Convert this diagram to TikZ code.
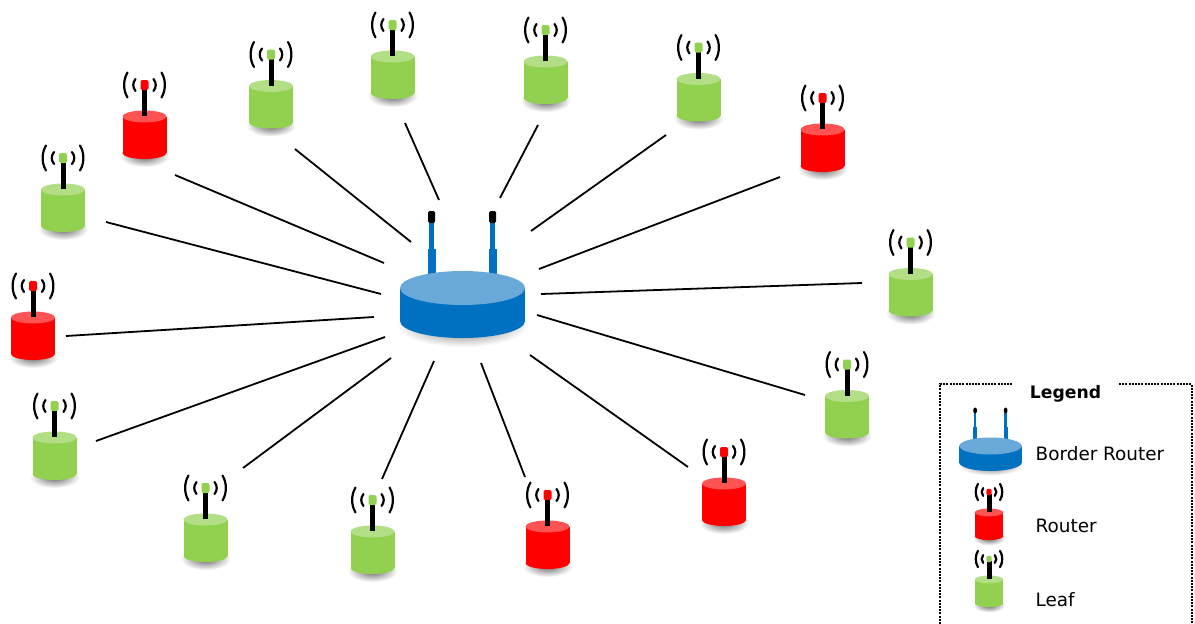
\documentclass[tikz,border=0pt]{standalone}
\usepackage{fontspec}
\setmainfont{DejaVu Sans}
\usetikzlibrary{calc}
\definecolor{hubblue}{HTML}{0070C0}
\definecolor{hubtop}{HTML}{69A9D9}
\definecolor{routerred}{HTML}{FF0000}
\definecolor{routertop}{HTML}{FF5252}
\definecolor{leafgreen}{HTML}{92D050}
\definecolor{leaftop}{HTML}{B2DE85}
\tikzset{
  link/.style={draw=black,line width=1.8pt},
  radio/.style={draw=black,line width=2.2pt,line cap=round},
  legendline/.style={draw=black,line width=2.4pt,dash pattern=on 2pt off 1.2pt},
  legendtext/.style={anchor=west,inner sep=0pt,font=\fontsize{18.4}{22}\selectfont},
  pics/device/.style 2 args={code={
    \shade[inner color=black!60,outer color=white] (0,71) ellipse [x radius=25pt,y radius=11pt];
    \fill[#1] (-22,31.5) rectangle (22,68);
    \fill[#1] (0,68) ellipse [x radius=22pt,y radius=6pt];
    \fill[#2] (0,31.5) ellipse [x radius=22pt,y radius=6pt];
    \draw[black,line width=5pt] (0,3) -- (0,31);
    \fill[#1,rounded corners=2pt] (-4,-5) rectangle (4,5);
    \foreach \side in {-1,1} {
      \path[radio] (\side*9,-6) .. controls (\side*12,-2) and (\side*12,2) .. (\side*9,6);
      \path[radio] (\side*17,-12.5) .. controls (\side*21.5,-5) and (\side*21.5,5) .. (\side*17,12.5);
    }
  }},
  pics/hub/.style={code={
    \shade[inner color=black!60,outer color=white] (0,37) ellipse [x radius=66pt,y radius=22pt];
    \foreach \side in {-31,30} {
      \fill[hubblue] (\side-4,-39) rectangle (\side+4,-5);
      \fill[hubblue] (\side-2.5,-66) rectangle (\side+2.5,-39);
      \fill[black,rounded corners=1.5pt] (\side-3.5,-77) rectangle (\side+3.5,-65);
    }
    \fill[hubblue] (-62.5,0) rectangle (62.5,33);
    \fill[hubblue] (0,33) ellipse [x radius=62.5pt,y radius=17pt];
    \fill[hubtop] (0,0) ellipse [x radius=62.5pt,y radius=17pt];
  }}
}
\begin{document}
\begin{tikzpicture}[x=1pt,y=-1pt]
  \useasboundingbox (0,0) rectangle (1195,624);
  \fill[white] (0,0) rectangle (1195,624);

  \pic (hubA) at (462.5,288) {hub};

  \pic (leafA) at (63,158) {device={leafgreen}{leaftop}};
  \pic (routerA) at (144.5,85) {device={routerred}{routertop}};
  \pic (leafB) at (271,54.5) {device={leafgreen}{leaftop}};
  \pic (leafC) at (392.5,25) {device={leafgreen}{leaftop}};
  \pic (leafD) at (545.5,30) {device={leafgreen}{leaftop}};
  \pic (leafE) at (698.5,47.5) {device={leafgreen}{leaftop}};
  \pic (routerB) at (822.5,98) {device={routerred}{routertop}};
  \pic (leafF) at (910.5,242.5) {device={leafgreen}{leaftop}};
  \pic (leafG) at (847,364.5) {device={leafgreen}{leaftop}};
  \pic (routerC) at (724,452) {device={routerred}{routertop}};
  \pic (routerD) at (547.5,495) {device={routerred}{routertop}};
  \pic (leafH) at (372.5,500) {device={leafgreen}{leaftop}};
  \pic (leafI) at (205.5,488) {device={leafgreen}{leaftop}};
  \pic (leafJ) at (54.5,406) {device={leafgreen}{leaftop}};
  \pic (routerE) at (33,286) {device={routerred}{routertop}};

  \foreach \lnk/\xa/\ya/\xb/\yb in {leafA/106/222/381/294,routerA/175/175/384/263,leafB/295/149/411/242,
    leafC/405/123/439/200,leafD/538/125/500/198,leafE/666/135/531/231,routerB/780/177/539/269,
    leafF/862/283/541/294,leafG/805/395/537/315,routerC/688/467/530/355,routerD/525/477/481/363,
    leafH/382/479/434/361,leafI/243/468/391/358,leafJ/96/441/385/337,routerE/66/336/374/317} {
    \coordinate (\lnk out) at (\xa,\ya);
    \coordinate (\lnk in) at (\xb,\yb);
    \path[link] (\lnk out) -- (\lnk in);
  }

  \coordinate (boxbl) at (940,624);
  \coordinate (boxtl) at (940,384);
  \coordinate (boxgl) at (1013,384);
  \coordinate (boxgr) at (1119,384);
  \coordinate (boxtr) at (1192,384);
  \coordinate (boxbr) at (1192,624);
  \path[legendline] (boxbl) -- (boxtl) -- (boxgl);
  \path[legendline] (boxgr) -- (boxtr) -- (boxbr);
  \node[inner sep=0pt,font=\fontsize{17.2}{20}\selectfont\bfseries] (legendtitle) at (1065.5,393.5) {Legend};

  \pic[scale=0.5] (hubL) at (990.5,446) {hub};
  \pic[scale=0.65] (routerL) at (989,492) {device={routerred}{routertop}};
  \pic[scale=0.65] (leafL) at (989,559) {device={leafgreen}{leaftop}};
  \node[legendtext] (hublabel) at (1035.5,454) {Border Router};
  \node[legendtext] (routerlabel) at (1035.5,526) {Router};
  \node[legendtext] (leaflabel) at (1035.5,600) {Leaf};
\end{tikzpicture}
\end{document}
